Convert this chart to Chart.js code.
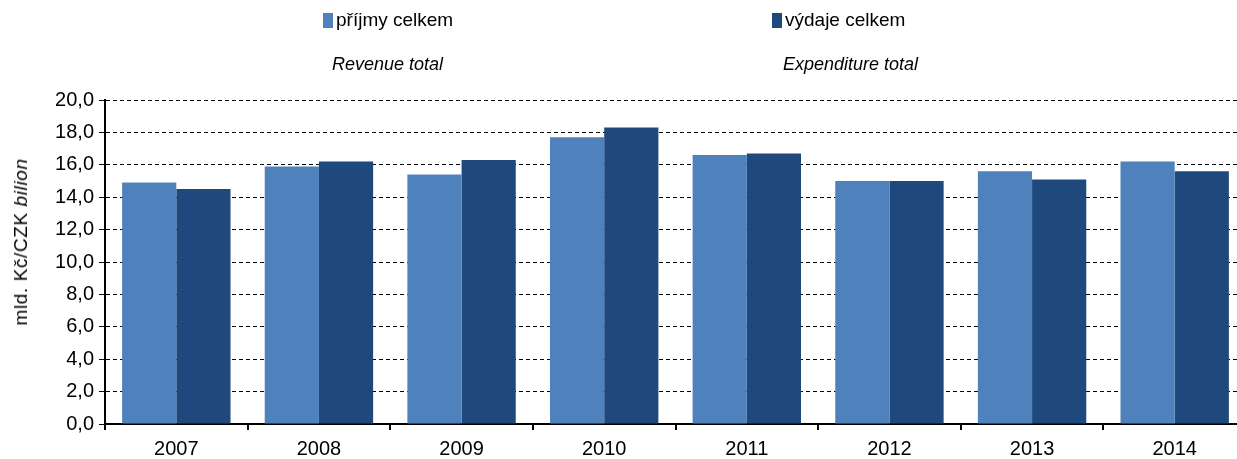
<!DOCTYPE html>
<html>
<head>
<meta charset="utf-8">
<script src="https://cdn.jsdelivr.net/npm/chart.js@4/dist/chart.umd.min.js"></script>
<style>
    html, body { margin: 0; padding: 0; background: #fff; overflow: hidden; }
    #wrap { position: relative; width: 1237px; height: 459px; overflow: hidden; font-family: "Liberation Sans", Arial, sans-serif; color: #000; }
    #chart { position: absolute; left: 0; top: 0; }
    .leg { position: absolute; font-size: 19px; white-space: nowrap; }
    .leg .box { display: inline-block; width: 10px; height: 15px; margin-right: 3px; vertical-align: -2px; }
    .en { position: absolute; font-size: 18px; font-style: italic; white-space: nowrap; }
    #ytitle { position: absolute; left: 21px; top: 242px; font-size: 19px; letter-spacing: 0.6px; white-space: nowrap;
              transform: translate(-50%, -50%) rotate(-90deg); }
</style>
</head>
<body>
<div id="wrap">
    <canvas id="chart" width="1250" height="459"></canvas>
    <div class="leg" style="left:323px; top:9px;"><span class="box" style="background:#4F81BD"></span>příjmy celkem</div>
    <div class="leg" style="left:772px; top:9px;"><span class="box" style="background:#1F497D"></span>výdaje celkem</div>
    <div class="en" style="left:332px; top:54px;">Revenue total</div>
    <div class="en" style="left:783px; top:54px;">Expenditure total</div>
    <div id="ytitle">mld. Kč/CZK <i>bilion</i></div>
</div>
<script>
    var years = ['2007', '2008', '2009', '2010', '2011', '2012', '2013', '2014'];
    var revenue = [14.9, 15.9, 15.4, 17.7, 16.6, 15.0, 15.6, 16.2];
    var expenditure = [14.5, 16.2, 16.3, 18.3, 16.7, 15.0, 15.1, 15.6];
    var seriesNames = ['příjmy celkem', 'výdaje celkem'];

    var ctx = document.getElementById('chart').getContext('2d');
    var chart = new Chart(ctx, {
        type: 'bar',
        data: {
            labels: years,
            datasets: [{
                label: seriesNames[0],
                data: revenue,
                backgroundColor: '#4F81BD',
                borderWidth: 0
            }, {
                label: seriesNames[1],
                data: expenditure,
                backgroundColor: '#1F497D',
                borderWidth: 0
            }]
        },
        options: {
            responsive: false,
            animation: false,
            layout: { padding: { top: 100, right: 4, bottom: 0, left: 0 } },
            datasets: { bar: { categoryPercentage: 0.76, barPercentage: 1.0 } },
            plugins: {
                legend: { display: false },
                tooltip: { enabled: false }
            },
            scales: {
                x: {
                    afterFit: function (s) { s.height = 35; },
                    grid: { drawOnChartArea: false, drawTicks: true, tickLength: 6, color: '#000', lineWidth: 2 },
                    border: { display: true, color: '#000', width: 2 },
                    ticks: { color: '#000', padding: 7, font: { family: 'Liberation Sans', size: 20 } }
                },
                y: {
                    min: 0,
                    max: 20,
                    afterFit: function (s) { s.width = 105; },
                    grid: { color: '#000', lineWidth: 1, tickLength: 6, tickColor: '#000' },
                    border: { display: true, color: '#000', width: 2, dash: [4, 3] },
                    ticks: {
                        stepSize: 2,
                        color: '#000',
                        padding: 5,
                        font: { family: 'Liberation Sans', size: 20 },
                        callback: function (v) { return v.toFixed(1).replace('.', ','); }
                    }
                }
            }
        }
    });
</script>
</body>
</html>
